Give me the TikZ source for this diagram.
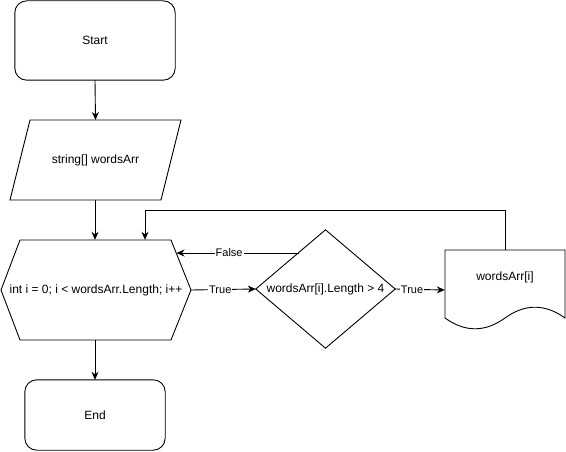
\documentclass[tikz,border=0pt]{standalone}
\usepackage{fontspec}
\setmainfont{Liberation Sans}
\usetikzlibrary{arrows.meta}
\begin{document}
\begin{tikzpicture}[x=1pt,y=-1pt,
  box/.style={draw=none,rectangle,inner sep=0pt,font=\fontsize{12}{14}\selectfont},
  outline/.style={draw=black,line width=0.9pt,line join=miter},
  arr/.style={draw=black,line width=0.9pt,-{Stealth[length=8pt,width=7pt]}},
  lbl/.style={fill=white,inner sep=1pt,font=\fontsize{11}{13}\selectfont}]
\useasboundingbox (0,0) rectangle (566,452);
% Start
\node[box,minimum width=160pt,minimum height=79pt] (start) at (95,40.5) {Start};
\draw[outline,rounded corners=12pt] (start.south west) rectangle (start.north east);
% Input parallelogram
\node[box,minimum width=171pt,minimum height=80pt] (inp) at (95.5,160) {string[] wordsArr};
\draw[outline] (30,120) -- (181,120) -- (161,200) -- (10,200) -- cycle;
% Loop hexagon
\node[box,minimum width=190pt,minimum height=100pt] (loop) at (96,290) {int i = 0; i < wordsArr.Length; i++};
\draw[outline] (1,290) -- (20,240) -- (171,240) -- (191,290) -- (171,340) -- (20,340) -- cycle;
% Decision diamond
\node[box,minimum width=139pt,minimum height=118pt] (dec) at (325.5,289) {wordsArr[i].Length > 4};
\draw[outline] (dec.west) -- (dec.north) -- (dec.east) -- (dec.south) -- cycle;
% Document
\node[box,minimum width=120pt,minimum height=80pt] (doc) at (505,290) {};
\node[box] (doctext) at (505,277) {wordsArr[i]};
\draw[outline] (445,250) -- (565,250) -- (565,318)
  .. controls (545,303.6) and (525,303.6) .. (505,318)
  .. controls (485,332.4) and (465,332.4) .. (445,318) -- cycle;
% End
\node[box,minimum width=140pt,minimum height=70pt] (end) at (95,415) {End};
\draw[outline,rounded corners=12pt] (end.south west) rectangle (end.north east);
% helper coordinates
\coordinate (fs) at (298.9,253);
\coordinate (fe) at (176.5,253);
\coordinate (fbtop) at (145,210);
% connectors
\draw[arr] (start.south) -- (inp.south |- 0,120);
\draw[arr] (95,200) -- (loop.north -| 95,0);
\draw[arr] (loop.south -| 95,0) -- (end.north);
\draw[arr] (loop.east) -- node[lbl,pos=0.45]{True} (dec.west);
\draw[arr] (dec.east) -- node[lbl,pos=0.34]{True} (doc.west);
\draw[arr] (fs) -- node[lbl,pos=0.57]{False} (fe);
\draw[arr] (doc.north) |- (fbtop) -- (fbtop |- loop.north);
\end{tikzpicture}
\end{document}
